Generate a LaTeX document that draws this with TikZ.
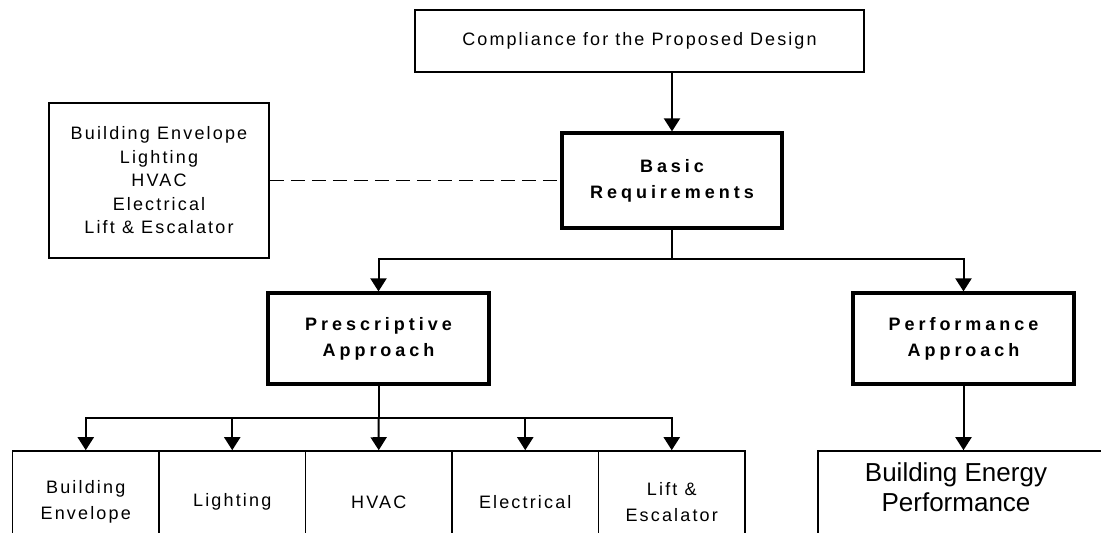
\documentclass[tikz,border=0pt]{standalone}
\usepackage{fontspec}
\setmainfont{Liberation Sans}
\newfontfamily\spaced[LetterSpace=12]{Liberation Sans}
\newfontfamily\spacedb[LetterSpace=22]{Liberation Sans}
\usetikzlibrary{arrows.meta}
\tikzset{
  thinbox/.style={draw, line width=1.6pt, inner sep=0pt, align=center,
    font={\spaced\fontsize{18}{23.5}\selectfont}},
  thickbox/.style={draw, line width=3.2pt, inner sep=0pt, align=center,
    font={\spacedb\bfseries\fontsize{18}{26}\selectfont}},
  cellbox/.style={draw, line width=1.6pt, inner sep=0pt, align=center,
    minimum width=146.5pt, minimum height=102pt,
    font={\spaced\fontsize{18}{26}\selectfont}},
  bigtext/.style={inner sep=0pt, align=center, font={\fontsize{26}{30}\selectfont}},
  conn/.style={line width=2pt},
  arrow/.style={conn, -{Triangle[width=16pt,length=13pt]}},
  dashline/.style={line width=1.8pt, dash pattern=on 14pt off 7pt},
}
\begin{document}
\begin{tikzpicture}[x=1pt,y=-1pt]
\useasboundingbox (0,0) rectangle (1101,533);
\clip (0,0) rectangle (1101,533);
\fill[white] (0,0) rectangle (1101,533);
\node[thinbox, minimum width=449pt, minimum height=62.5pt, font={\addfontfeatures{LetterSpace=11.5}\fontsize{18}{23.5}\selectfont}] (top) at (639.5,41) {Compliance for the Proposed Design};
\node[thinbox, minimum width=220pt, minimum height=155pt] (left) at (159,180.5) {Building Envelope\\Lighting\\HVAC\\Electrical\\Lift \& Escalator};
\node[thickbox, minimum width=220pt, minimum height=95pt] (basic) at (672,180.5) {Basic\\Requirements};
\node[thickbox, minimum width=221pt, minimum height=91pt] (presc) at (378.5,338.5) {Prescriptive\\Approach};
\node[thickbox, minimum width=221pt, minimum height=91pt] (perf) at (963.5,338.5) {Performance\\Approach};
\node[cellbox] (b1) at (85.75,502) {Building\\Envelope};
\node[cellbox] (b2) at (232.25,502) {Lighting};
\node[cellbox] (b3) at (378.75,502) {HVAC};
\node[cellbox] (b4) at (525.25,502) {Electrical};
\node[cellbox] (b5) at (671.75,502) {Lift \&\\Escalator};
\node[draw, line width=1.6pt, minimum width=292pt, minimum height=102pt] (bep) at (964,502) {};
\node[bigtext] (bept) at (956,487) {Building Energy\\Performance};
\coordinate (j1) at (672,259);
\coordinate (j2) at (378.5,418);
\draw[arrow] (basic.north |- top.south) -- (basic.north);
\draw[dashline] (left.east) -- (basic.west);
\draw[conn] (basic.south) -- (j1);
\draw[arrow] (j1) -| (presc.north);
\draw[arrow] (j1) -| (perf.north);
\draw[conn] (presc.south) -- (j2);
\draw[arrow] (j2) -| (b1.north);
\draw[arrow] (j2) -| (b2.north);
\draw[arrow] (j2) -- (b3.north);
\draw[arrow] (j2) -| (b4.north);
\draw[arrow] (j2) -| (b5.north);
\draw[arrow] (perf.south) -- (perf.south |- bep.north);
\end{tikzpicture}
\end{document}
